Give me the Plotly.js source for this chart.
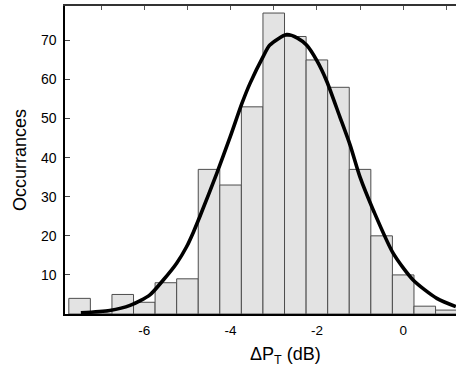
<!DOCTYPE html>
<html>
<head>
<meta charset="utf-8">
<script src="https://cdn.plot.ly/plotly-3.0.1.min.js"></script>
<style>
html,body{margin:0;padding:0;background:#fff;overflow:hidden;}
#chart{width:456px;height:371px;}
</style>
</head>
<body>
<div id="chart"></div>
<script>
// Histogram bins (centres, dB) and counts
const binCenters = [-7.5, -7.0, -6.5, -6.0, -5.5, -5.0, -4.5, -4.0, -3.5, -3.0, -2.5, -2.0, -1.5, -1.0, -0.5, 0.0, 0.5, 1.0];
const counts     = [4, 0, 5, 3, 8, 9, 37, 33, 53, 77, 71, 65, 58, 37, 20, 10, 2, 1];

// Fitted curve, points
const fitX = [-7.47, -6.8, -6.33, -5.87, -5.56, -5.25, -5.02, -4.86, -4.71, -4.32, -4.01, -3.74, -3.55, -3.24, -3.09, -2.70, -2.45, -2.24, -2.0, -1.77, -1.47, -1.23, -1.0, -0.69, -0.23, 0.23, 0.78, 1.22];
const fitY = [0.3, 0.9, 2.2, 4.9, 8.7, 13.0, 17.2, 21.0, 25.0, 36.0, 45.3, 53.8, 59.0, 66.0, 68.8, 71.5, 70.6, 68.8, 64.8, 59.5, 50.5, 43.2, 35.0, 26.5, 15.5, 8.7, 4.0, 1.9];

const xTickVals = [-6, -4, -2, 0];
const xMinorTicks = [-7, -6, -5, -4, -3, -2, -1, 0, 1];
const yTickVals = [10, 20, 30, 40, 50, 60, 70];

const xRange = [-7.838, 1.224];
const yRange = [0, 78.8];

const FONT = 'Liberation Sans, Arial, Helvetica, sans-serif';

const traces = [
  {
    type: 'bar',
    x: binCenters,
    y: counts,
    width: 0.5,
    marker: {color: '#e3e3e3', line: {color: '#4d4d4d', width: 1}},
    hoverinfo: 'x+y',
    showlegend: false
  },
  {
    type: 'scatter',
    mode: 'lines',
    x: fitX,
    y: fitY,
    line: {color: '#000', width: 3.6, shape: 'spline', smoothing: 0.7},
    showlegend: false
  },
  {
    type: 'scatter',
    mode: 'markers',
    x: [xRange[0]],
    y: [0],
    xaxis: 'x2',
    yaxis: 'y2',
    marker: {opacity: 0},
    hoverinfo: 'skip',
    showlegend: false
  }
];

const layout = {
  width: 456,
  height: 371,
  margin: {l: 65, r: 0, t: 6, b: 57},
  paper_bgcolor: '#fff',
  plot_bgcolor: '#fff',
  font: {family: FONT, color: '#000', size: 14},
  bargap: 0,
  xaxis: {
    range: xRange,
    tickvals: xTickVals,
    ticktext: xTickVals.map(String),
    ticks: '',
    showline: true,
    linecolor: '#000',
    linewidth: 2,
    showgrid: false,
    zeroline: false,
    tickfont: {size: 13.5, family: FONT},
    ticklabelstandoff: 3
  },
  xaxis2: {
    overlaying: 'x',
    side: 'top',
    range: xRange,
    tickvals: xMinorTicks,
    ticks: 'inside',
    ticklen: 4,
    tickwidth: 1,
    tickcolor: '#555',
    showticklabels: false,
    showline: true,
    linecolor: '#333',
    linewidth: 2,
    showgrid: false,
    zeroline: false
  },
  yaxis: {
    range: yRange,
    tickvals: yTickVals,
    ticks: '',
    showline: true,
    linecolor: '#000',
    linewidth: 1.6,
    showgrid: false,
    zeroline: false,
    tickfont: {size: 14, family: FONT},
    ticklabelstandoff: 4,
    title: {text: 'Occurrances', font: {size: 18, family: FONT}, standoff: 10}
  },
  yaxis2: {
    overlaying: 'y',
    side: 'left',
    range: yRange,
    tickvals: yTickVals,
    ticks: 'inside',
    ticklen: 5,
    tickwidth: 1,
    tickcolor: '#444',
    showticklabels: false,
    showline: false,
    showgrid: false,
    zeroline: false
  },
  annotations: [
    {
      text: 'ΔP<sub>T</sub> (dB)',
      xref: 'paper', yref: 'paper',
      x: 0.5627, y: -0.135,
      xanchor: 'center', yanchor: 'middle',
      showarrow: false,
      font: {size: 18, family: FONT, color: '#000'}
    }
  ]
};

Plotly.newPlot('chart', traces, layout, {displayModeBar: false, staticPlot: true});
</script>
</body>
</html>
